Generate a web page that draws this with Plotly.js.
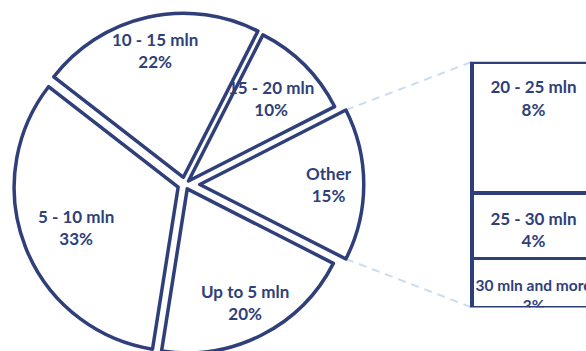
<!DOCTYPE html>
<html><head><meta charset="utf-8">
<script src="https://cdn.plot.ly/plotly-3.0.1.min.js"></script>
<style>html,body{margin:0;padding:0;overflow:hidden;background:#fff}</style>
</head><body><div id="chart"></div>
<script>
// ---- data ----
const pieLabels = ['Other', '15 - 20 mln', '10 - 15 mln', '5 - 10 mln', 'Up to 5 mln'];
const pieValues = [15, 10, 22, 33, 20];
const barLabels = ['30 mln and more', '25 - 30 mln', '20 - 25 mln'];
const barValues = [3, 4, 8];
const barCategory = ['Other'];

// ---- layout / style ----
const W = 600, H = 368;
const NAVY = '#2F3F7A', DASH = '#CCDCF0';
const FONT = 'Lato, "Open Sans", sans-serif';
const pulls = [0.09, 0.03, 0.045, 0.045, 0.03];
const labelRad = [0.785, 0.715, 0.79, 0.667, 0.78];
const barLabelSizes = [15.5, 17, 17];
const R = 164, CX = 185, CY = 184.5, ROT = 63;
const maxPull = Math.max(...pulls);
const box = 2 * R * (1 + maxPull);
const pieDomY = [(H - (CY + box / 2)) / H, (H - (CY - box / 2)) / H];
const pieDomX = [0, 2 * CX / W];
const barPx = {x0: 472, x1: 595, top: 61.8, bottom: 307.5, areaL: 440, areaR: 600};
const unitPx = barPx.x1 - barPx.x0;
const barDomX = [barPx.areaL / W, barPx.areaR / W];
const barXRange = [-0.5 - (barPx.x0 - barPx.areaL) / unitPx, 0.5 + (barPx.areaR - barPx.x1) / unitPx];
const barDomY = [(H - barPx.bottom) / H, (H - barPx.top) / H];
const labelDrop = 2.35;

const total = pieValues.reduce((a, b) => a + b, 0);
const ang = pieValues.map(v => v * 360 / total);
const rad = d => d * Math.PI / 180;

// pie label annotations, derived from slice angles
const annotations = [];
let cum = 0;
pieValues.forEach((v, i) => {
  const mid = ROT + ang[0] - cum - ang[i] / 2;
  cum += ang[i];
  const d = (pulls[i] + labelRad[i]) * R;
  const px = CX + d * Math.sin(rad(mid));
  const py = CY - d * Math.cos(rad(mid));
  annotations.push({
    xref: 'paper', yref: 'paper', x: px / W, y: (H - py) / H,
    xanchor: 'center', yanchor: 'middle', showarrow: false,
    text: pieLabels[i] + '<br>' + Math.round(v / total * 100) + '%',
    font: {family: FONT, size: 17, color: NAVY, weight: 700}
  });
});

// connector lines from the "Other" slice to the bar
const mid0 = ROT + ang[0] / 2;
const ax = CX + pulls[0] * R * Math.sin(rad(mid0));
const ay = CY - pulls[0] * R * Math.cos(rad(mid0));
const cUp = [ax + R * Math.sin(rad(ROT)), ay - R * Math.cos(rad(ROT))];
const cLo = [ax + R * Math.sin(rad(ROT + ang[0])), ay - R * Math.cos(rad(ROT + ang[0]))];
const shapes = [
  {type: 'line', xref: 'paper', yref: 'paper', layer: 'below',
   x0: cUp[0] / W, y0: (H - cUp[1]) / H, x1: barPx.x0 / W, y1: barDomY[1],
   line: {color: DASH, width: 2, dash: '8px,6px'}},
  {type: 'line', xref: 'paper', yref: 'paper', layer: 'below',
   x0: cLo[0] / W, y0: (H - cLo[1]) / H, x1: barPx.x0 / W, y1: barDomY[0],
   line: {color: DASH, width: 2, dash: '8px,6px'}}
];

const traces = [{
  type: 'pie', labels: pieLabels, values: pieValues, sort: false,
  direction: 'counterclockwise', rotation: ROT, pull: pulls,
  domain: {x: pieDomX, y: pieDomY},
  marker: {colors: pieValues.map(() => '#ffffff'), line: {color: NAVY, width: 3.5}},
  textinfo: 'none', hoverinfo: 'skip', showlegend: false
}];
barValues.forEach((v, i) => {
  traces.push({
    type: 'bar', x: barCategory, y: [v], name: barLabels[i], width: 1,
    marker: {color: '#ffffff', line: {color: NAVY, width: 3.5}},
    cliponaxis: false, hoverinfo: 'skip', showlegend: false
  });
});
let base = 0;
const tops = barValues.map(v => (base += v));
traces.push({
  type: 'scatter', mode: 'text', x: barValues.map(() => barCategory[0]),
  y: tops.map(t => t - labelDrop),
  text: barLabels.map((l, i) => l + '<br>' + barValues[i] + '%'),
  textposition: 'middle center', cliponaxis: true,
  textfont: {family: FONT, size: barLabelSizes, color: NAVY, weight: 700},
  hoverinfo: 'skip', showlegend: false
});

const layout = {
  width: W, height: H, margin: {l: 0, r: 0, t: 0, b: 0},
  paper_bgcolor: '#ffffff', plot_bgcolor: 'rgba(0,0,0,0)',
  barmode: 'stack', showlegend: false,
  xaxis: {domain: barDomX, range: barXRange, type: 'category', visible: false, fixedrange: true},
  yaxis: {domain: barDomY, range: [0, barValues.reduce((a, b) => a + b, 0)], visible: false, fixedrange: true},
  annotations: annotations, shapes: shapes
};
Plotly.newPlot('chart', traces, layout, {staticPlot: true, displayModeBar: false});
</script></body></html>
